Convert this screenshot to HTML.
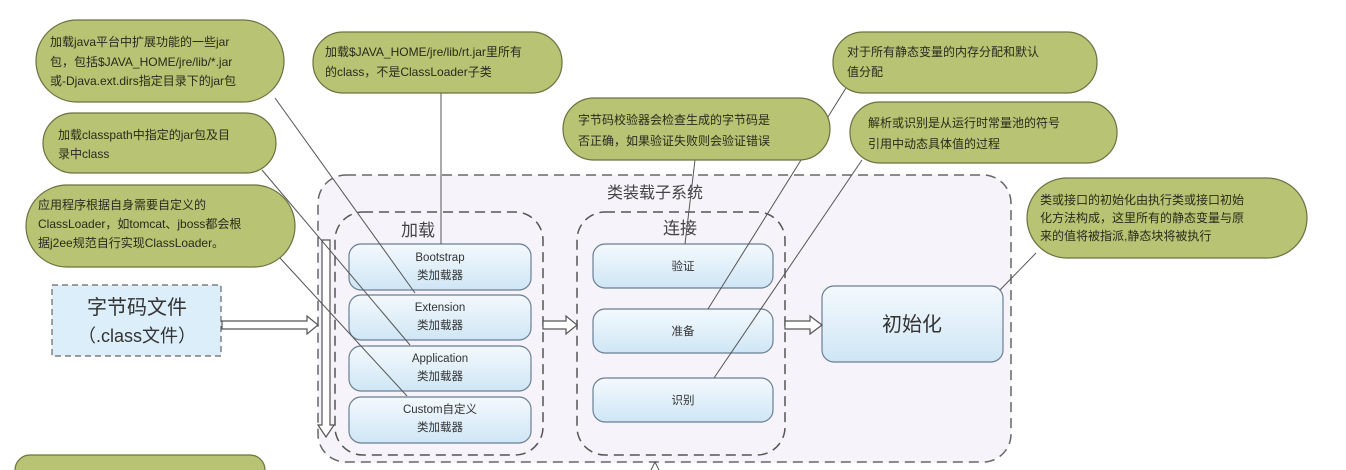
<!DOCTYPE html>
<html><head><meta charset="utf-8"><style>
html,body{margin:0;padding:0;background:#fff;width:1346px;height:470px;overflow:hidden}
svg{display:block}
text{font-family:"Liberation Sans","Noto Sans CJK SC",sans-serif}
.b{font-size:12px;fill:#2a2a1a}
.s{font-size:11.5px;fill:#333}
</style></head><body>
<svg width="1346" height="470" viewBox="0 0 1346 470" xmlns="http://www.w3.org/2000/svg" style="overflow:hidden">
<defs>
<linearGradient id="g" x1="0" y1="0" x2="0" y2="1"><stop offset="0" stop-color="#f4f9fd"/><stop offset="1" stop-color="#cfe6f5"/></linearGradient>
</defs>
<rect x="318" y="175" width="693" height="287" rx="28" fill="#f7f3fa" stroke="#666" stroke-width="1.5" stroke-dasharray="10,6"/>
<text x="655" y="198" text-anchor="middle" font-size="16" fill="#444">类装载子系统</text>
<rect x="335" y="212" width="208" height="243" rx="28" fill="none" stroke="#555" stroke-width="1.5" stroke-dasharray="10,6"/>
<text x="418" y="236" text-anchor="middle" font-size="17" fill="#444">加载</text>
<rect x="577" y="212" width="208" height="243" rx="28" fill="none" stroke="#555" stroke-width="1.5" stroke-dasharray="10,6"/>
<text x="680" y="234" text-anchor="middle" font-size="17" fill="#444">连接</text>
<g stroke="#6a7f94" stroke-width="1.2" fill="url(#g)">
<rect x="349" y="244" width="182" height="46" rx="12"/>
<rect x="349" y="295" width="182" height="45" rx="12"/>
<rect x="349" y="346" width="182" height="45" rx="12"/>
<rect x="349" y="397" width="182" height="46" rx="12"/>
<rect x="593" y="244" width="180" height="44" rx="12"/>
<rect x="593" y="309" width="180" height="44" rx="12"/>
<rect x="593" y="378" width="180" height="44" rx="12"/>
<rect x="822" y="286" width="181" height="76" rx="12"/>
</g>
<g text-anchor="middle">
<text x="440" y="261" class="s">Bootstrap</text><text x="440" y="279" class="s">类加载器</text>
<text x="440" y="311" class="s">Extension</text><text x="440" y="329" class="s">类加载器</text>
<text x="440" y="362" class="s">Application</text><text x="440" y="380" class="s">类加载器</text>
<text x="440" y="413" class="s">Custom自定义</text><text x="440" y="431" class="s">类加载器</text>
<text x="683" y="270" class="s">验证</text>
<text x="683" y="335" class="s">准备</text>
<text x="683" y="404" class="s">识别</text>
<text x="912" y="331" font-size="20" fill="#333">初始化</text>
</g>
<rect x="52" y="285" width="169" height="71" fill="#dbeef9" stroke="#666" stroke-width="1.2" stroke-dasharray="6,4"/>
<text x="137" y="314" text-anchor="middle" font-size="20" fill="#333">字节码文件</text>
<text x="137" y="342" text-anchor="middle" font-size="18" fill="#333">（.class文件）</text>
<g fill="#fff" stroke="#555" stroke-width="1.2">
<path d="M222,321 L307,321 L307,316 L318,325 L307,334 L307,329 L222,329 Z"/>
<path d="M543,321 L566,321 L566,316 L577,325 L566,334 L566,329 L543,329 Z"/>
<path d="M785,321 L810,321 L810,316 L822,325 L810,334 L810,329 L785,329 Z"/>
<path d="M322,240 L330,240 L330,425 L334,425 L326,437 L318,425 L322,425 Z"/>
</g>
<g stroke="#555" stroke-width="1" fill="none">
<line x1="275" y1="98" x2="415" y2="293"/>
<line x1="441" y1="92" x2="441" y2="244"/>
<line x1="262" y1="170" x2="410" y2="345"/>
<line x1="280" y1="258" x2="407" y2="396"/>
<line x1="695" y1="160" x2="685" y2="244"/>
<line x1="846" y1="88" x2="708" y2="309"/>
<line x1="862" y1="160" x2="714" y2="378"/>
<line x1="1036" y1="253" x2="1000" y2="290"/>
<path d="M651,470 L655,462 L659,470"/>
</g>
<g fill="#b8c374" stroke="#6c7140" stroke-width="1.2">
<rect x="36" y="20" width="248" height="82" rx="41"/>
<rect x="313" y="32" width="249" height="61" rx="30"/>
<rect x="43" y="113" width="233" height="60" rx="30"/>
<rect x="26" y="185" width="269" height="82" rx="41"/>
<rect x="563" y="98" width="267" height="62" rx="31"/>
<rect x="833" y="32" width="264" height="61" rx="30"/>
<rect x="850" y="102" width="267" height="61" rx="30"/>
<rect x="1027" y="178" width="280" height="80" rx="40"/>
<rect x="15" y="455" width="250" height="30" rx="15"/>
</g>
<g>
<text x="50" y="46" class="b">加载java平台中扩展功能的一些jar</text>
<text x="50" y="66" class="b">包，包括$JAVA_HOME/jre/lib/*.jar</text>
<text x="50" y="85" class="b">或-Djava.ext.dirs指定目录下的jar包</text>
<text x="325" y="56" class="b">加载$JAVA_HOME/jre/lib/rt.jar里所有</text>
<text x="325" y="76" class="b">的class，不是ClassLoader子类</text>
<text x="58" y="139" class="b">加载classpath中指定的jar包及目</text>
<text x="58" y="158" class="b">录中class</text>
<text x="38" y="209" class="b">应用程序根据自身需要自定义的</text>
<text x="38" y="228" class="b">ClassLoader，如tomcat、jboss都会根</text>
<text x="38" y="247" class="b">据j2ee规范自行实现ClassLoader。</text>
<text x="578" y="124" class="b">字节码校验器会检查生成的字节码是</text>
<text x="578" y="145" class="b">否正确，如果验证失败则会验证错误</text>
<text x="847" y="56" class="b">对于所有静态变量的内存分配和默认</text>
<text x="847" y="76" class="b">值分配</text>
<text x="868" y="127" class="b">解析或识别是从运行时常量池的符号</text>
<text x="868" y="148" class="b">引用中动态具体值的过程</text>
<text x="1040" y="204" class="b">类或接口的初始化由执行类或接口初始</text>
<text x="1040" y="222" class="b">化方法构成，这里所有的静态变量与原</text>
<text x="1040" y="240" class="b">来的值将被指派,静态块将被执行</text>
</g>
</svg>
</body></html>
